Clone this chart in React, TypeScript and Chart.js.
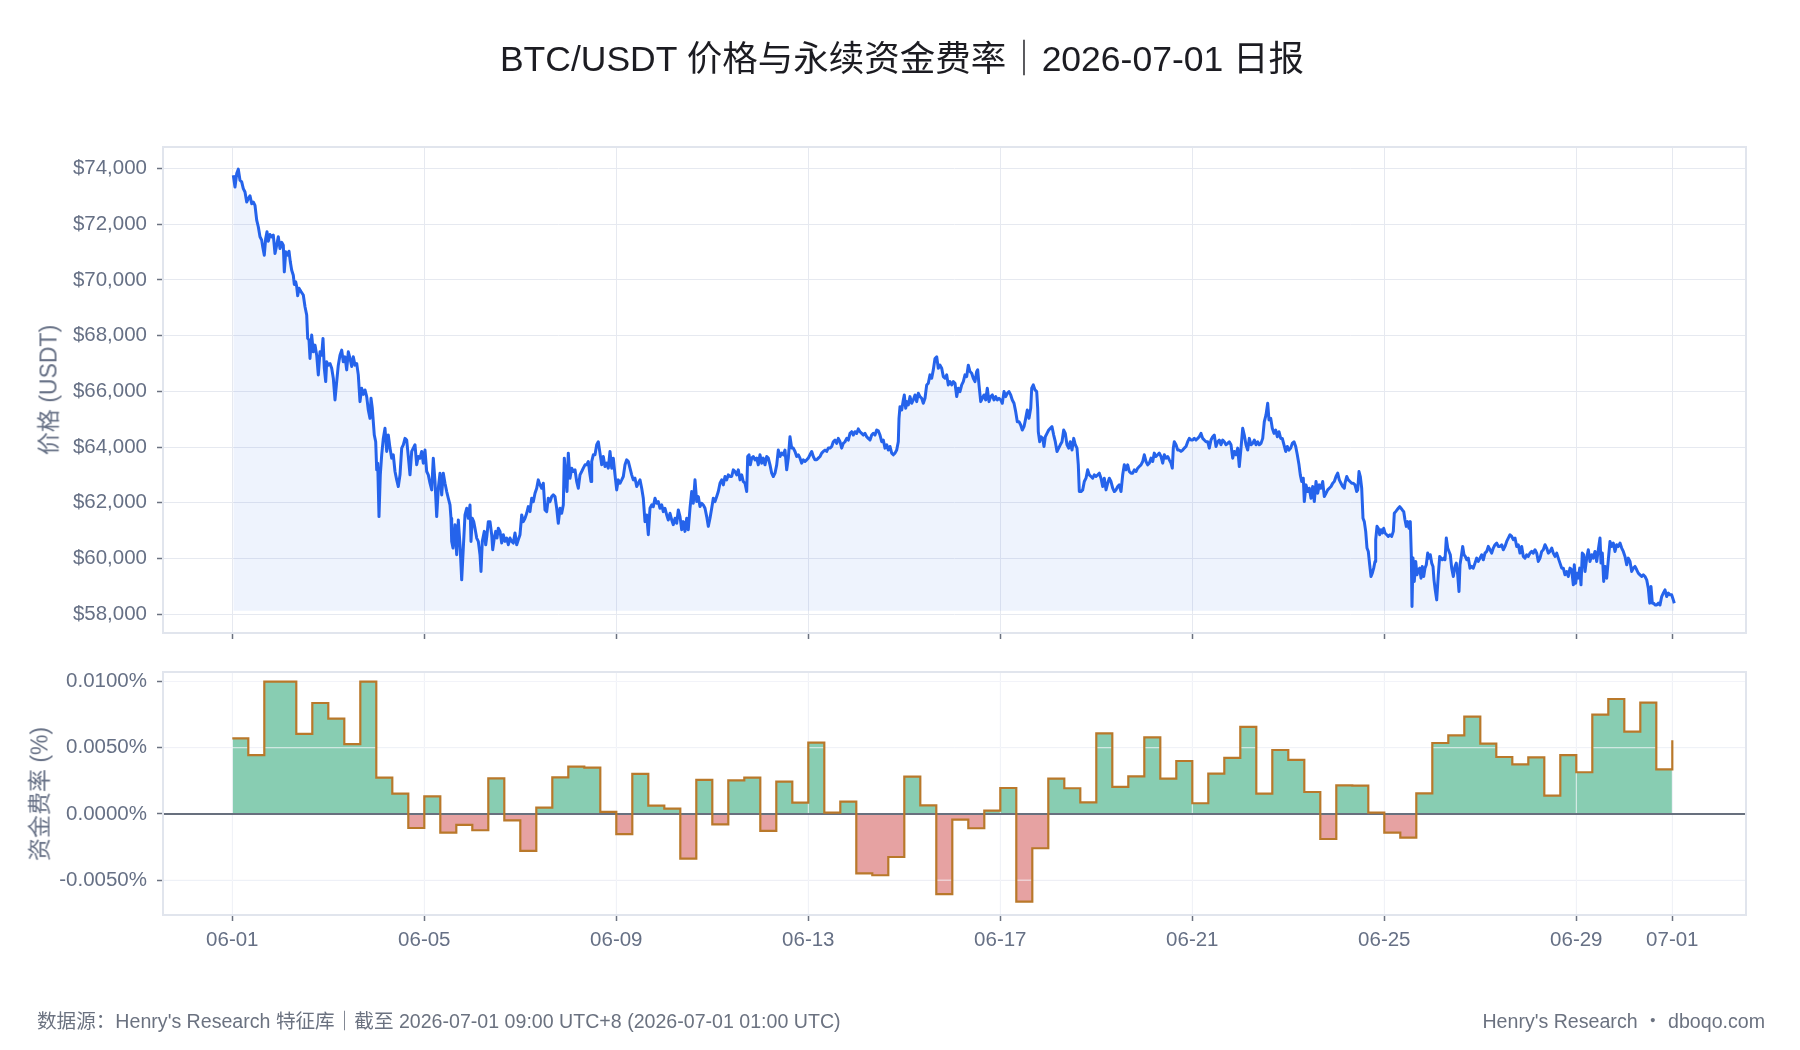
import React, { useEffect, useRef } from 'react';
import { Chart, registerables } from 'chart.js';

Chart.register(...registerables);

// ---------- text ----------
const FONT = '"Liberation Sans", "Noto Sans CJK SC", sans-serif';
const TITLE = 'BTC/USDT 价格与永续资金费率｜2026-07-01 日报';
const PRICE_AXIS_TITLE = '价格 (USDT)';
const FUNDING_AXIS_TITLE = '资金费率 (%)';
const FOOTER_LEFT = "数据源：Henry's Research 特征库｜截至 2026-07-01 09:00 UTC+8 (2026-07-01 01:00 UTC)";
const FOOTER_RIGHT = "Henry's Research ・ dboqo.com";

// ---------- axes (x in hours since 06-01 00:00) ----------
const X_MIN_HOURS = -34.65;
const X_MAX_HOURS = 756.85;
const X_TICK_HOURS = [0, 96, 192, 288, 384, 480, 576, 672, 720];
const X_TICK_LABELS = ['06-01', '06-05', '06-09', '06-13', '06-17', '06-21', '06-25', '06-29', '07-01'];
const PRICE_MIN = 57320;
const PRICE_MAX = 74775;
const PRICE_TICKS = [58000, 60000, 62000, 64000, 66000, 68000, 70000, 72000, 74000];
const PRICE_FILL_BASE = 58120;
const FUNDING_MIN = -0.00763;
const FUNDING_MAX = 0.01072;
const FUNDING_TICKS = [-0.005, 0, 0.005, 0.01];

// ---------- funding rate (%), one value per 8h settlement from 06-01 00:00 ----------
const FUNDING_INTERVAL_HOURS = 8;
const FUNDING_RATES = [
  0.00571, 0.00445, 0.01000, 0.01000, 0.00604, 0.00838, 0.00720, 0.00528, 0.01000, 0.00274,
  0.00154, -0.00106, 0.00133, -0.00141, -0.00083, -0.00123, 0.00269, -0.00048, -0.00279, 0.00048,
  0.00277, 0.00357, 0.00350, 0.00015, -0.00153, 0.00302, 0.00063, 0.00040, -0.00337, 0.00257,
  -0.00078, 0.00254, 0.00274, -0.00128, 0.00244, 0.00086, 0.00539, 0.00010, 0.00093, -0.00448,
  -0.00463, -0.00325, 0.00282, 0.00065, -0.00606, -0.00043, -0.00108, 0.00025, 0.00196, -0.00662,
  -0.00259, 0.00267, 0.00194, 0.00088, 0.00609, 0.00204, 0.00284, 0.00579, 0.00267, 0.00400,
  0.00081, 0.00304, 0.00423, 0.00657, 0.00154, 0.00483, 0.00408, 0.00166, -0.00189, 0.00216,
  0.00214, 0.00010, -0.00141, -0.00179, 0.00156, 0.00536, 0.00594, 0.00735, 0.00531, 0.00430,
  0.00375, 0.00428, 0.00138, 0.00445, 0.00315, 0.00750, 0.00868, 0.00622, 0.00840, 0.00337,
  0.00556,
];

// ---------- price [hour, USDT] ----------
const PRICE_SEG1 = [
  [0.5,73760],[1.35,73340],[2.2,73820],[3.0,73980],[3.85,73580],[4.7,73520],[5.5,73280],[6.35,73160],[7.2,72800],[8.0,72920],
  [8.85,73020],[9.7,72740],[10.5,72800],[11.35,72680],[12.2,72150],[13.0,71910],[13.85,71550],[14.7,71430],[15.2,71190],[16.0,70890],
  [16.7,71490],[17.35,71730],[18.0,71390],[18.85,71630],[19.7,71550],[20.5,71610],[21.35,70950],[22.2,71250],[23.0,71550],[23.85,71130],
  [24.7,71350],[25.5,71250],[26.0,70290],[26.7,71010],[27.7,70890],[28.35,71030],[29.0,70650],[29.7,70350],[30.5,70170],[31.0,69840],
  [31.7,69930],[32.2,69760],[32.7,69430],[33.35,69700],[34.35,69580],[35.5,69460],[36.35,69040],[37.2,68740],[37.7,67900],[38.35,67840],
  [38.85,67180],[39.7,68020],[40.5,67420],[41.35,67660],[42.2,67300],[43.0,66590],[43.85,67420],[44.7,67300],[45.35,67900],[46.0,66830],
  [46.7,66350],[47.2,67060],[48.0,66940],[48.85,67000],[49.7,66830],[50.5,66470],[51.35,65690],[52.2,66350],[53.0,66940],[53.85,67300],
  [54.7,67480],[55.5,67060],[56.35,67240],[57.2,66770],[58.0,67420],[58.85,67180],[59.7,66890],[60.5,67240],[61.35,66940],[62.2,67000],
  [63.0,66590],[63.85,65630],[64.7,66110],[65.5,65890],[66.35,66050],[67.2,65810],[68.0,65330],[68.85,65030],[69.35,65750],[70.0,65390],
  [71.0,64430],[71.7,64190],[72.2,63180],[72.7,63420],[73.35,61500],[74.0,63000],[74.7,63720],[75.5,64310],[76.35,64670],[77.2,63840],
  [78.0,64430],[78.85,63960],[79.7,63600],[80.5,63720],[81.35,63120],[82.2,62820],[83.0,62580],[83.85,63000],[84.7,63960],[85.5,64080],
  [86.35,64310],[87.2,64250],[88.0,63660],[88.85,63000],[89.7,63840],[90.5,63960],[91.35,64080],[92.2,63360],[93.0,63660],[93.85,63600],
  [94.7,63840],[95.5,63420],[96.35,63890],[97.2,63120],[98.0,63000],[98.85,62700],[99.7,62460],[100.5,63600],[101.35,62760],[102.2,61500],
  [103.0,62520],[103.85,63060],[104.7,62280],[105.5,63060],[106.35,62700],[107.2,62400],[108.0,62160],[108.85,61920],[109.35,61440],[109.7,60610],
  [110.35,60370],[111.35,61210],[112.2,60130],[113.0,61380],[113.85,60490],[114.7,59230],[115.5,60370],[116.35,61560],[117.2,61800],[118.0,61440],
  [118.85,61920],[119.35,60610],[120.0,61440],[120.7,61320],[121.35,61080],[122.2,60730],[123.0,60610],[123.85,60130],[124.35,59530],[125.0,60610],
  [126.0,60970],[126.7,60490],[127.35,60850],[128.0,61320],[128.85,61320],[129.7,60850],[130.2,60310],[131.0,60730],[131.7,60970],[132.35,60730],
  [133.0,61080],[133.85,60970],[134.7,60550],[135.5,60850],[136.35,60610],[137.2,60730],[138.0,60490],[138.85,60730],[139.7,60610],[140.5,60550],
  [141.35,60910],[142.2,60490],[143.0,60670],[143.85,60850],[144.7,61560],[145.5,61320],[146.35,61440],[147.2,61620],[148.0,61860],[148.85,61680],
  [149.7,62160],[150.5,62040],[151.35,62340],[152.2,62520],[153.0,62820],[153.85,62640],[154.7,62520],[155.5,62700],[156.35,61740],[157.2,61680],
  [158.0,62160],[158.85,62040],[159.7,62220],[160.5,62280],[161.35,62220],[162.2,61800],[163.0,61260],[163.85,61800],[164.7,61620],[165.5,61920],
  [166.0,63600],[166.7,63000],[167.35,62400],[168.0,63780],[168.85,62880],[169.7,63240],[170.5,63120],[171.35,63180],[172.2,62760],[173.0,62520],
  [173.85,63000],[174.7,63120],[175.5,63240],[176.35,63360],[177.2,63360],[178.0,63480],[178.85,63000],[179.35,62760],[179.7,63480],[180.5,63720],
];

const PRICE_SEG2 = [
  [181.35,63720],[182.2,64080],[183.0,64190],[183.85,63780],[184.7,63360],[185.5,63660],[186.35,63300],[187.2,63420],[188.0,63240],[188.85,63840],
  [189.7,63240],[190.5,63600],[191.35,63000],[192.2,62460],[193.0,62820],[193.85,62700],[194.7,62820],[195.5,62940],[196.35,63360],[197.2,63540],
  [198.0,63480],[198.85,63240],[199.7,63000],[200.5,62820],[201.35,62880],[202.2,62580],[203.0,62700],[203.85,62820],[204.7,62520],[205.5,62160],
  [206.35,61320],[207.2,61560],[208.0,60850],[208.85,61800],[209.7,61920],[210.5,61860],[211.35,62160],[212.2,61980],[213.0,62040],[213.85,61800],
  [214.7,61920],[215.5,61680],[216.35,61800],[217.2,61560],[218.0,61380],[218.85,61620],[219.7,61380],[220.5,61210],[221.35,61440],[222.2,61260],
  [223.0,61740],[223.85,61500],[224.7,61030],[225.5,61320],[226.35,60970],[227.2,61440],[228.0,61030],[228.85,61800],[229.7,62400],[230.5,61980],
  [231.35,62820],[232.2,62040],[233.0,62220],[233.85,61860],[234.7,61980],[235.5,61920],[236.35,61800],[237.2,61500],[238.0,61150],[238.85,61440],
  [239.7,61800],[240.5,62160],[241.35,62040],[242.2,62220],[243.0,62400],[243.85,62700],[244.7,62820],[245.5,62640],[246.35,62940],[247.2,62820],
  [248.0,63000],[248.85,62940],[249.7,62940],[250.5,63180],[251.35,63120],[252.2,63000],[253.0,63180],[253.85,62820],[254.7,63000],[255.5,62760],
  [256.35,62700],[257.2,62400],[257.7,63660],[258.35,63720],[259.0,63360],[259.7,63600],[260.5,63660],[261.35,63540],[262.2,63600],[263.0,63360],
  [263.85,63720],[264.7,63420],[265.5,63600],[266.35,63360],[267.2,63660],[268.0,63600],[268.85,63360],[269.7,63060],[270.5,62940],[271.35,63060],
  [272.2,63360],[273.0,63890],[273.85,63660],[274.7,63780],[275.5,63720],[276.35,63890],[277.2,63180],[278.0,63600],[278.85,64370],[279.7,63960],
  [280.5,63960],[281.35,63840],[282.2,63660],[283.0,63720],[283.85,63600],[284.7,63420],[285.5,63540],[286.35,63480],[287.2,63540],[288.0,63600],
  [288.85,63720],[289.7,63840],[290.5,63660],[291.35,63540],[292.2,63540],[293.0,63600],[293.85,63660],[294.7,63780],[295.5,63840],[296.35,63890],
  [297.2,63840],[298.0,63960],[298.85,63960],[299.7,64020],[300.5,64190],[301.35,64250],[302.2,64130],[303.0,64310],[303.85,64190],[304.7,63960],
  [305.5,64130],[306.35,64190],[307.2,64310],[308.0,64250],[308.85,64490],[309.7,64550],[310.5,64430],[311.35,64550],[312.2,64490],[313.0,64650],
  [313.85,64550],[314.7,64490],[315.5,64430],[316.35,64490],[317.2,64370],[318.0,64310],[318.85,64250],[319.7,64430],[320.5,64490],[321.35,64430],
  [322.2,64610],[323.0,64580],[323.85,64430],[324.7,64190],[325.5,64250],[326.35,63960],[327.2,64080],[328.0,63890],[328.85,64020],[329.7,63780],
  [330.5,63720],[331.35,63780],[332.2,63890],[333.0,64190],[333.35,65030],[333.85,65450],[334.7,65330],[335.5,65690],[336.0,65870],[336.7,65390],
  [337.35,65630],[338.0,65510],[338.85,65810],[339.7,65570],[340.5,65690],[341.35,65870],[342.2,65630],[343.0,65930],[343.85,65810],[344.7,65750],
  [345.5,65570],[346.35,65750],[347.2,66230],[348.0,66290],[348.85,66590],[349.7,66470],[350.5,66770],[351.35,67180],[352.2,67240],[353.0,66830],
  [353.85,66940],[354.7,66830],[355.5,66530],[356.35,66470],[357.2,66590],[358.0,66230],[358.85,66350],[359.7,66230],[360.5,66350],[361.35,66290],
  [362.2,65810],[363.0,66110],[363.85,65990],[364.7,66230],[365.5,66350],[366.35,66590],[367.2,66530],[368.0,66940],[368.85,66710],[369.7,66650],
  [370.5,66470],[371.35,66350],
];

const PRICE_SEG3 = [
  [372.2,66710],[372.7,66770],[373.35,66230],[374.2,65630],[375.0,65750],[375.85,65870],[376.7,65690],[377.5,66110],[378.35,65630],[379.2,65810],
  [380.0,65870],[380.85,65690],[381.7,65810],[382.5,65690],[383.35,65750],[384.2,65690],[385.0,65570],[385.85,65990],[386.7,65810],[387.5,65930],
  [388.35,65990],[389.2,65870],[390.0,65690],[390.85,65570],[391.7,65270],[392.5,64910],[393.35,64910],[394.2,64790],[395.0,64610],[395.85,64730],
  [396.7,65030],[397.5,65330],[398.35,65030],[399.2,65390],[399.7,66110],[400.5,66230],[401.35,66050],[402.2,65990],[402.7,65390],[403.0,64550],
  [403.7,64190],[404.35,64370],[405.2,64310],[405.85,64020],[406.5,64370],[407.35,64490],[408.2,64610],[409.0,64670],[409.85,64730],[410.7,64430],
  [411.5,64190],[412.35,63840],[413.2,63960],[414.0,64080],[414.85,64190],[415.7,64610],[416.5,64490],[417.35,64080],[418.2,63960],[419.0,64190],
  [419.85,63890],[420.7,64310],[421.5,64080],[422.35,63960],[423.0,63360],[423.5,62400],[424.35,62400],[425.2,62460],[426.0,62760],[426.85,62880],
  [427.7,63180],[428.5,63000],[429.35,62940],[430.2,62880],[431.0,63000],[431.85,62940],[432.7,63000],[433.5,63060],[434.35,62880],[435.2,62580],
  [436.0,62880],[436.85,62460],[437.7,62700],[438.5,62880],[439.35,62760],[440.2,62520],[441.0,62400],[441.85,62460],[442.7,62580],[443.5,62640],
  [444.35,62400],[445.2,63000],[446.0,63360],[446.85,63180],[447.7,63360],[448.5,63120],[449.35,63060],[450.2,63060],[451.0,63180],[451.85,63120],
  [452.7,63240],[453.5,63300],[454.35,63360],[455.2,63480],[456.0,63720],[456.85,63480],[457.7,63360],[458.5,63420],[459.35,63600],[460.2,63480],
  [461.0,63780],[461.85,63660],[462.7,63720],[463.5,63780],[464.35,63660],[465.2,63420],[466.0,63720],[466.85,63600],[467.7,63660],[468.5,63540],
  [469.35,63420],[470.0,63240],[470.5,63960],[471.0,64190],[471.85,64080],[472.7,63890],[473.5,63890],[474.35,63840],[475.2,63890],[476.0,63960],
  [476.85,64020],[477.7,64190],[478.5,64310],[479.35,64250],[480.2,64250],[481.0,64310],[481.85,64250],[482.7,64310],[483.5,64370],[484.35,64490],
  [485.2,64310],[486.0,64250],[486.85,64190],[487.7,64190],[488.5,63960],[489.35,64250],[490.2,64370],[491.0,64430],[491.85,64020],[492.7,64190],
  [493.5,64250],[494.35,64080],[495.2,64250],[496.0,64190],[496.85,64080],[497.7,64130],[498.5,64190],[499.35,64080],[500.2,63600],[501.0,63840],
  [501.85,63720],[502.7,63960],[503.5,63300],[504.35,63960],[505.2,64670],[506.0,64430],[506.85,64080],[507.7,63890],[508.5,64310],[509.35,64080],
  [510.2,64130],[511.0,64250],[511.85,64080],[512.7,64190],[513.5,64080],[514.35,64130],[515.2,64310],[516.0,64910],[516.85,65150],[517.7,65570],
  [518.35,64970],[519.2,65030],[520.0,64670],[520.85,64490],[521.7,64610],[522.5,64370],[523.35,64550],[524.2,64310],[525.0,64310],[525.85,64080],
  [526.7,63840],[527.5,64020],[528.35,63890],[529.2,63960],[530.0,64130],[530.85,64190],[531.7,64020],[532.5,63720],[533.35,63360],[534.0,63000],
  [534.7,62760],[535.5,62880],[536.0,62040],[536.85,62640],[537.7,62400],[538.5,62520],[539.35,62160],[540.2,62580],[541.0,62040],[541.85,62760],
  [542.7,62340],[543.5,62640],[544.35,62520],[545.2,62760],[546.0,62220],[546.85,62340],[547.7,62460],[548.5,62520],[549.35,62580],[550.2,62700],
  [551.0,62760],[551.85,62940],[552.7,63060],[553.5,62820],[554.35,62700],[555.2,62580],[556.0,62520],
];

const PRICE_SEG4 = [
  [556.35,62700],[557.2,62940],[558.0,62820],[558.85,62760],[559.7,62700],[560.5,62700],[561.35,62640],[562.2,62400],[562.7,62460],[563.35,63120],
  [564.0,62940],[564.7,62520],[565.35,61440],[566.0,61320],[566.7,60970],[567.35,60370],[568.0,60250],[568.7,59770],[569.35,59350],[570.0,59470],
  [570.7,59650],[571.35,59890],[571.7,60670],[572.35,61150],[573.0,61080],[573.7,60850],[574.35,61030],[575.0,60910],[575.7,61080],[576.35,60910],
  [577.2,60850],[578.0,60790],[578.85,60850],[579.7,60790],[580.5,60970],[581.0,61620],[581.7,61680],[582.35,61740],[583.0,61800],[583.7,61860],
  [584.35,61800],[585.0,61740],[585.7,61680],[586.35,61380],[587.0,61150],[587.7,61320],[588.35,61080],[589.0,61320],[589.5,60130],[589.85,58270],
  [590.35,60010],[591.0,59170],[591.7,59890],[592.35,59410],[593.0,59590],[593.7,59650],[594.35,59290],[595.0,59710],[595.7,59350],[596.35,59650],
  [597.0,59770],[597.7,60190],[598.35,60010],[599.0,60130],[599.7,59830],[600.35,59710],[600.85,59230],[601.35,58930],[602.2,58510],[603.0,59410],
  [603.7,60070],[604.35,60010],[605.0,59950],[605.7,60010],[606.35,59950],[607.0,60730],[607.7,60370],[608.35,60250],[609.0,60130],[609.7,59650],
  [610.5,59350],[611.35,59710],[612.0,59830],[612.7,59410],[613.35,58810],[613.85,59770],[614.5,60070],[615.2,60430],[615.85,60130],[616.5,60070],
  [617.2,59950],[618.0,60010],[618.85,59650],[619.7,59710],[620.5,59650],[621.35,59830],[622.2,60010],[623.0,59890],[623.85,60010],[624.7,60130],
  [625.5,59950],[626.35,60190],[627.2,60250],[628.0,60430],[628.85,60310],[629.7,60190],[630.5,60370],[631.35,60490],[632.2,60550],[633.0,60430],
  [633.85,60430],[634.7,60490],[635.5,60310],[636.35,60430],[637.2,60610],[638.0,60730],[638.85,60850],[639.7,60790],[640.5,60670],[641.35,60730],
  [642.2,60430],[643.0,60490],[643.85,60190],[644.7,60430],[645.5,60070],[646.35,60010],[647.2,60130],[648.0,60070],[648.85,60190],[649.7,60250],
  [650.5,60190],[651.35,60310],[652.2,60190],[653.0,59890],[653.85,60010],[654.7,60250],[655.5,60310],[656.35,60490],[657.2,60370],[658.0,60190],
  [658.85,60250],[659.7,60370],[660.5,60190],[661.35,60070],[662.2,60190],[663.0,60010],[663.85,59830],[664.7,59650],[665.5,59650],[666.35,59410],
  [667.2,59530],[668.0,59350],[668.85,59650],[669.7,59590],[670.5,59050],[671.0,59770],[671.7,59110],[672.35,59470],[673.0,59290],[673.7,59650],
  [674.35,59050],[675.0,60190],[675.7,60130],[676.35,59530],[677.2,60010],[678.0,60310],[678.85,59890],[679.7,60130],[680.5,60010],[681.35,60250],
  [682.2,59890],[683.0,60310],[683.85,60730],[684.35,59830],[685.0,60190],[685.7,59170],[686.35,59710],[687.2,59290],[688.0,59950],[688.85,60610],
  [689.7,60430],[690.5,60550],[691.35,60250],[692.2,60490],[693.0,60430],[693.85,60550],[694.7,60370],[695.5,60250],[696.35,60070],[697.2,59770],
  [698.0,60010],[698.85,59890],[699.7,59530],[700.5,59650],[701.35,59710],[702.2,59590],[703.0,59470],[703.85,59410],[704.7,59350],[705.5,59410],
  [706.35,59350],[707.2,59230],[708.0,58930],[708.7,58390],[709.35,58990],[710.0,58390],[710.7,58390],[711.35,58330],[712.2,58330],[713.0,58390],
  [713.85,58330],[714.7,58630],[715.5,58750],[716.35,58870],[717.2,58630],[718.0,58750],[718.85,58690],[719.7,58690],[720.5,58510],[721.0,58390],
];

// ---------- styles ----------
const GRID_COLOR = '#e6e9f0';
const GRID_OVER_FILL = 'rgba(244,246,250,0.85)';
const FRAME_COLOR = '#e1e5ed';
const TICK_MARK_COLOR = '#6b7280';
const LABEL_COLOR = '#667085';
const PRICE_LINE = '#2563eb';
const PRICE_FILL = 'rgba(37,99,235,0.08)';
const FUNDING_LINE = '#b9782a';
const FUNDING_POS = '#88cdb2';
const FUNDING_NEG = '#e6a2a2';
const ZERO_LINE = '#68707e';

const CHART_LEFT = 163;
const RIGHT_PAD = 54;
const TOP_CANVAS_H = 660;
const BOT_CANVAS_TOP = 640;
const BOT_CANVAS_H = 410;
const TICK_FONT_SIZE = 20.5;

const framePlugin = {
  id: 'frame',
  afterDraw(chart: any) {
    const { ctx, chartArea: a } = chart;
    ctx.save();
    ctx.strokeStyle = FRAME_COLOR;
    ctx.lineWidth = 2;
    ctx.strokeRect(a.left, a.top, a.right - a.left, a.bottom - a.top);
    ctx.restore();
  },
};

const fundingOverlayPlugin = {
  id: 'fundingOverlay',
  beforeDatasetsDraw(chart: any) {
    const { ctx, chartArea: a, scales } = chart;
    const x = scales.x;
    const y = scales.y;
    ctx.save();
    ctx.beginPath();
    ctx.rect(a.left, a.top, a.right - a.left, a.bottom - a.top);
    ctx.clip();
    ctx.strokeStyle = GRID_OVER_FILL;
    ctx.lineWidth = 1;
    for (const t of y.ticks) {
      const py = y.getPixelForValue(t.value);
      ctx.beginPath();
      ctx.moveTo(a.left, py);
      ctx.lineTo(a.right, py);
      ctx.stroke();
    }
    for (const t of x.ticks) {
      const px = x.getPixelForValue(t.value);
      ctx.beginPath();
      ctx.moveTo(px, a.top);
      ctx.lineTo(px, a.bottom);
      ctx.stroke();
    }
    const zy = y.getPixelForValue(0);
    ctx.strokeStyle = ZERO_LINE;
    ctx.lineWidth = 2;
    ctx.beginPath();
    ctx.moveTo(a.left, zy);
    ctx.lineTo(a.right, zy);
    ctx.stroke();
    ctx.restore();
  },
};

function xScale(showLabels: boolean) {
  return {
    type: 'linear',
    min: X_MIN_HOURS,
    max: X_MAX_HOURS,
    afterBuildTicks: (s: any) => {
      s.ticks = X_TICK_HOURS.map((v) => ({ value: v }));
    },
    afterFit: (s: any) => {
      s.height = showLabels ? 60 : 12;
    },
    grid: {
      color: GRID_COLOR,
      lineWidth: 1,
      drawTicks: true,
      tickLength: 6,
      tickColor: TICK_MARK_COLOR,
      tickWidth: 1.5,
    },
    border: { display: false },
    ticks: {
      display: showLabels,
      autoSkip: false,
      maxRotation: 0,
      minRotation: 0,
      padding: 7,
      color: LABEL_COLOR,
      font: { family: FONT, size: TICK_FONT_SIZE },
      callback: (_v: any, i: number) => X_TICK_LABELS[i],
    },
  };
}

function yScale(min: number, max: number, tickValues: number[], fmt: (v: number) => string) {
  return {
    type: 'linear',
    min,
    max,
    afterBuildTicks: (s: any) => {
      s.ticks = tickValues.map((v) => ({ value: v }));
    },
    afterFit: (s: any) => {
      s.width = CHART_LEFT;
    },
    grid: {
      color: GRID_COLOR,
      lineWidth: 1,
      drawTicks: true,
      tickLength: 6,
      tickColor: TICK_MARK_COLOR,
      tickWidth: 1.5,
    },
    border: { display: false },
    ticks: {
      padding: 10,
      color: LABEL_COLOR,
      font: { family: FONT, size: TICK_FONT_SIZE },
      callback: (v: any) => fmt(Number(v)),
    },
  };
}

export default function App() {
  const topRef = useRef<HTMLCanvasElement | null>(null);
  const botRef = useRef<HTMLCanvasElement | null>(null);

  useEffect(() => {
    Chart.defaults.font.family = FONT;
    const pricePoints = [...PRICE_SEG1, ...PRICE_SEG2, ...PRICE_SEG3, ...PRICE_SEG4].map(([h, p]) => ({ x: h, y: p }));
    const fundingPoints = FUNDING_RATES.map((r, i) => ({ x: i * FUNDING_INTERVAL_HOURS, y: r }));

    const top = new Chart(topRef.current as HTMLCanvasElement, {
      type: 'line',
      data: {
        datasets: [
          {
            data: pricePoints,
            borderColor: PRICE_LINE,
            borderWidth: 3,
            borderJoinStyle: 'round',
            backgroundColor: PRICE_FILL,
            pointRadius: 0,
            tension: 0,
            fill: { target: { value: PRICE_FILL_BASE } },
          } as any,
        ],
      },
      options: {
        responsive: false,
        animation: false,
        parsing: false as any,
        normalized: true,
        layout: { padding: { top: 147, bottom: 15, left: 0, right: RIGHT_PAD } },
        plugins: { legend: { display: false }, tooltip: { enabled: false } },
        events: [],
        scales: {
          x: xScale(false) as any,
          y: yScale(PRICE_MIN, PRICE_MAX, PRICE_TICKS, (v) => '$' + v.toLocaleString('en-US')) as any,
        },
      },
      plugins: [framePlugin],
    });

    const bot = new Chart(botRef.current as HTMLCanvasElement, {
      type: 'line',
      data: {
        datasets: [
          {
            data: fundingPoints,
            borderColor: FUNDING_LINE,
            borderWidth: 2.2,
            pointRadius: 0,
            stepped: true,
            fill: { target: { value: 0 }, above: FUNDING_POS, below: FUNDING_NEG },
          } as any,
        ],
      },
      options: {
        responsive: false,
        animation: false,
        parsing: false as any,
        layout: { padding: { top: 32, bottom: 75, left: 0, right: RIGHT_PAD } },
        plugins: {
          legend: { display: false },
          tooltip: { enabled: false },
          filler: { drawTime: 'beforeDatasetsDraw' } as any,
        },
        events: [],
        scales: {
          x: xScale(true) as any,
          y: yScale(FUNDING_MIN, FUNDING_MAX, FUNDING_TICKS, (v) => v.toFixed(4) + '%') as any,
        },
      },
      plugins: [fundingOverlayPlugin, framePlugin],
    });

    return () => {
      top.destroy();
      bot.destroy();
    };
  }, []);

  const rotated = (cx: number, cy: number): React.CSSProperties => ({
    position: 'absolute',
    left: cx,
    top: cy,
    transform: 'translate(-50%, -50%) rotate(-90deg)',
    whiteSpace: 'nowrap',
    fontSize: 23,
    lineHeight: '23px',
    color: LABEL_COLOR,
  });

  return (
    <div
      style={{
        position: 'absolute',
        left: 0,
        top: 0,
        width: 1800,
        height: 1050,
        background: '#ffffff',
        fontFamily: FONT,
        overflow: 'hidden',
      }}
    >
      <canvas ref={topRef} width={1800} height={TOP_CANVAS_H} style={{ position: 'absolute', left: 0, top: 0, width: 1800, height: TOP_CANVAS_H }} />
      <canvas ref={botRef} width={1800} height={BOT_CANVAS_H} style={{ position: 'absolute', left: 0, top: BOT_CANVAS_TOP, width: 1800, height: BOT_CANVAS_H }} />
      <div
        style={{
          position: 'absolute',
          left: 0,
          top: 41,
          width: 1804,
          textAlign: 'center',
          fontSize: 35.5,
          lineHeight: '36px',
          color: '#1c1c22',
          whiteSpace: 'nowrap',
        }}
      >
        {TITLE}
      </div>
      <div style={rotated(49, 390)}>{PRICE_AXIS_TITLE}</div>
      <div style={rotated(40, 794)}>{FUNDING_AXIS_TITLE}</div>
      <div
        style={{
          position: 'absolute',
          left: 37,
          top: 1011,
          fontSize: 19.6,
          lineHeight: '20px',
          color: '#6b7280',
          whiteSpace: 'nowrap',
        }}
      >
        {FOOTER_LEFT}
      </div>
      <div
        style={{
          position: 'absolute',
          left: 0,
          width: 1765,
          top: 1011,
          textAlign: 'right',
          fontSize: 19.6,
          lineHeight: '20px',
          color: '#6b7280',
          whiteSpace: 'nowrap',
        }}
      >
        {FOOTER_RIGHT}
      </div>
    </div>
  );
}
